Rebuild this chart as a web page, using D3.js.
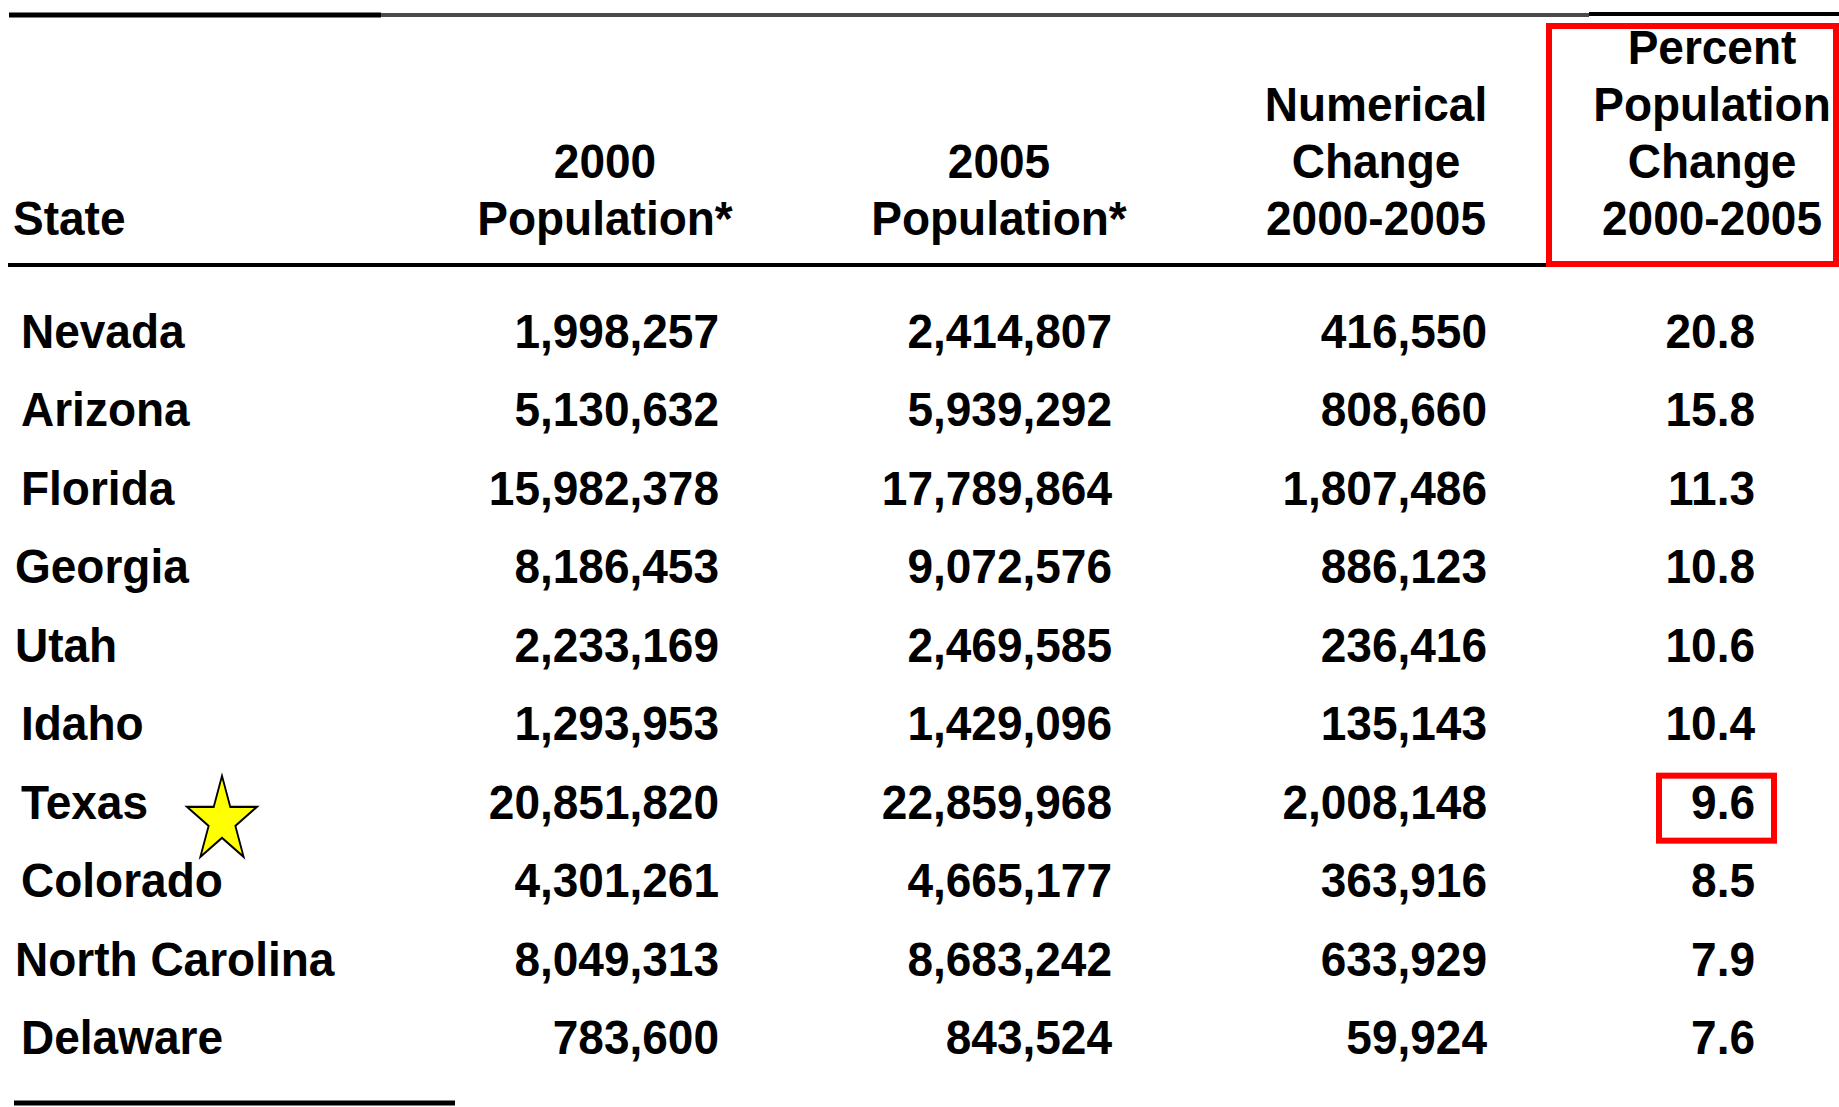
<!DOCTYPE html>
<html><head><meta charset="utf-8">
<script src="https://cdn.jsdelivr.net/npm/d3@7"></script>
<style>html,body{margin:0;padding:0;background:#fff;overflow:hidden}</style>
</head><body>
<svg id="c" width="1839" height="1107"></svg>
<script>
const states = ["Nevada","Arizona","Florida","Georgia","Utah","Idaho","Texas","Colorado","North Carolina","Delaware"];
const pop2000 = [1998257,5130632,15982378,8186453,2233169,1293953,20851820,4301261,8049313,783600];
const pop2005 = [2414807,5939292,17789864,9072576,2469585,1429096,22859968,4665177,8683242,843524];
const numChange = [416550,808660,1807486,886123,236416,135143,2008148,363916,633929,59924];
const pctChange = [20.8,15.8,11.3,10.8,10.6,10.4,9.6,8.5,7.9,7.6];
const columns = ["State","pop2000","pop2005","num","pct"];
const headerLabels = [["State"],["2000","Population*"],["2005","Population*"],["Numerical","Change","2000-2005"],["Percent","Population","Change","2000-2005"]];
const highlightState = "Texas";

const svg = d3.select("#c");
const font = "'Liberation Sans', Arial, sans-serif";
const fs = 46;
const sy = 1.06;

// scales
const y = d3.scalePoint().domain(states).range([332, 1038]);
const colRight = d3.scaleOrdinal().domain(columns).range([0, 719, 1112, 1487, 1755]);
const colCenter = d3.scaleOrdinal().domain(columns).range([0, 605, 999, 1376, 1712]);
const hdrLine = d3.scaleLinear().domain([0, 1]).range([235, 178]);
const fmt = d3.format(",");
const fmtP = d3.format(".1f");

function txt(sel, x, yy) {
  return sel.attr("transform", (d, i) => `translate(${typeof x === "function" ? x(d, i) : x},${typeof yy === "function" ? yy(d, i) : yy}) scale(1,${sy})`)
    .attr("font-family", font).attr("font-weight", "bold").attr("font-size", fs).attr("fill", "#000");
}

// rules
svg.append("line").attr("x1", 381).attr("x2", 1589).attr("y1", 15).attr("y2", 15)
  .attr("stroke", "#4a4a4a").attr("stroke-width", 4);
svg.append("line").attr("x1", 9).attr("x2", 381).attr("y1", 15).attr("y2", 15)
  .attr("stroke", "#000").attr("stroke-width", 5);
svg.append("line").attr("x1", 1589).attr("x2", 1839).attr("y1", 14).attr("y2", 14)
  .attr("stroke", "#000").attr("stroke-width", 4);
svg.append("line").attr("x1", 8).attr("x2", 1546).attr("y1", 265).attr("y2", 265)
  .attr("stroke", "#000").attr("stroke-width", 4);
svg.append("line").attr("x1", 14).attr("x2", 455).attr("y1", 1103).attr("y2", 1103)
  .attr("stroke", "#000").attr("stroke-width", 5);

// headers
columns.forEach((c, i) => {
  const lines = headerLabels[i];
  lines.forEach((t, j) => {
    const fromBottom = lines.length - 1 - j;
    txt(svg.append("text"), i === 0 ? 13 : colCenter(c), hdrLine(fromBottom))
      .attr("text-anchor", i === 0 ? "start" : "middle").text(t);
  });
});

// red box around header
svg.append("rect").attr("x", 1549).attr("y", 26).attr("width", 287).attr("height", 238)
  .attr("fill", "none").attr("stroke", "#ff0000").attr("stroke-width", 6);

// rows
const rowsG = svg.append("g");
const base = d => y(d) + 16;
txt(rowsG.selectAll("text.st").data(states).join("text").attr("class", "st"),
  d => ["Georgia","Utah","North Carolina"].includes(d) ? 15 : 21, d => base(d))
  .text(d => d);
const numCols = [["pop2000", pop2000, fmt], ["pop2005", pop2005, fmt], ["num", numChange, fmt], ["pct", pctChange, fmtP]];
numCols.forEach(([c, vals, f]) => {
  txt(rowsG.selectAll("text." + c).data(vals).join("text").attr("class", c),
    colRight(c), (v, i) => base(states[i]))
    .attr("text-anchor", "end").text(v => f(v));
});

// highlight box around Texas pct
svg.append("rect").attr("x", 1659).attr("y", y(highlightState) - 27).attr("width", 115).attr("height", 65)
  .attr("fill", "none").attr("stroke", "#ff0000").attr("stroke-width", 6);

// star
const R = 36.8;
svg.append("path")
  .attr("d", d3.symbol(d3.symbolStar, R * R / 0.8908130915292852)())
  .attr("transform", `translate(222,${y(highlightState) + 18}) scale(1,1.217)`)
  .attr("fill", "#ffff00").attr("stroke", "#000").attr("stroke-width", 1.8);
</script>
</body></html>
